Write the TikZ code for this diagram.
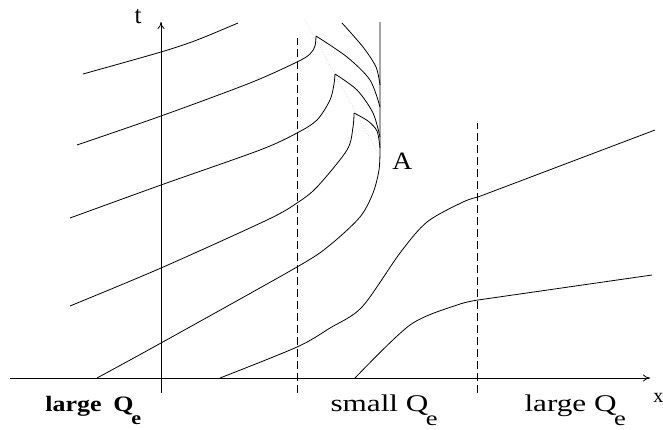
\documentclass[tikz,border=0pt]{standalone}
\usepackage{fontspec}
\setmainfont{Liberation Serif}
\usetikzlibrary{arrows.meta}
\newcommand\Qe{Q\kern-0.08em\raisebox{-0.6em}{\scalebox{0.85}{e}}}

\begin{document}
\begin{tikzpicture}[x=1pt, y=-1pt, line width=0.8pt,
  axis/.style={-{To[length=7pt,width=7pt]}},
  wall/.style={dash pattern=on 8pt off 4pt},
  qlabel/.style={anchor=base west, inner sep=0pt, transform shape, font=\fontsize{24}{24}\selectfont}]
  \useasboundingbox (0,0) rectangle (663,429);
  \draw[axis] (10,378) -- (650,378);
  \draw[axis] (161,393) -- (161,22);
  \draw[wall] (297,393) -- (297,38);
  \draw[wall] (477,393) -- (477,123);
  \draw[gray!30, dotted] (305,20) -- (378,153);
  \draw plot[smooth] coordinates {(83,74) (161,52) (197,40) (238,23)};
  \draw plot[smooth] coordinates {(77,145) (161,116) (250,83) (297,62) (310,54) (315,46) (316,36)};
  \draw plot[smooth] coordinates {(316,36) (347,57) (370,80) (380,107)};
  \draw plot[smooth] coordinates {(342,23) (363,47) (376,67) (380,85)};
  \draw plot[smooth] coordinates {(70,218) (161,185) (260,150) (297,133) (317,120) (330,100) (334,84) (335,74)};
  \draw plot[smooth] coordinates {(335,74) (357,90) (373,113) (380,137)};
  \draw plot[smooth] coordinates {(70,306) (161,268) (267,220) (297,203) (317,187) (347,150) (353,127) (354,113)};
  \draw plot[smooth] coordinates {(354,113) (368,121) (377,131) (380,148)};
  \draw plot[smooth] coordinates {(97,378) (161,343) (297,267) (330,245) (360,217) (373,193) (379,170) (380,150)} -- (380,22);
  \draw plot[smooth] coordinates {(220,378) (297,347) (330,328) (362,307) (400,253) (427,222) (463,202) (478,197)} -- (655,130);
  \draw plot[smooth] coordinates {(355,378) (410,325) (457,305) (478,300)} -- (652,275);
  \node[font=\fontsize{25}{25}\selectfont, anchor=base, inner sep=0pt] (tlab) at (138,23) {t};
  \node[font=\fontsize{25}{25}\selectfont, anchor=base west, inner sep=0pt, xscale=1.1, transform shape] (alab) at (392,169) {A};
  \node[font=\fontsize{20}{20}\selectfont, anchor=base west, inner sep=0pt] (xlab) at (653,402) {x};
  \node[qlabel, xscale=1.18, font=\fontsize{22}{22}\selectfont\bfseries] (leftq) at (45,411) {large\hspace{0.45em}\Qe};
  \node[qlabel, xscale=1.3] (midq) at (330,411) {small \Qe};
  \node[qlabel, xscale=1.3] (rightq) at (524,411) {large \Qe};
\end{tikzpicture}
\end{document}
